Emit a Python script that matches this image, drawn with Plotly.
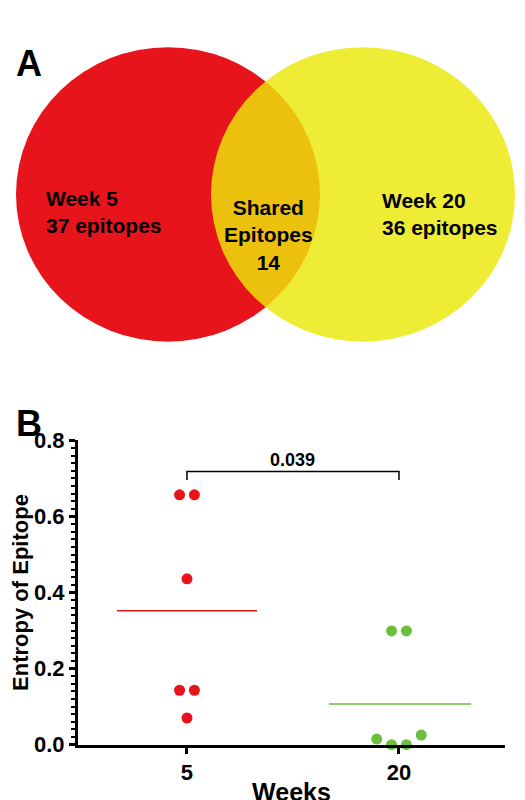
import plotly.graph_objects as go

categories = ["5", "20"]
week5_vals = [0.657, 0.657, 0.436, 0.143, 0.143, 0.070]
week5_x = [0.965, 1.035, 1.0, 0.965, 1.035, 1.0]
week20_vals = [0.299, 0.299, 0.0145, 0.0, 0.0, 0.025]
week20_x = [1.965, 2.035, 1.895, 1.965, 2.035, 2.105]
means = [0.352, 0.107]
pval = "0.039"

W, H = 525, 800
def px(x): return x / W
def py(y): return 1 - y / H

fig = go.Figure()
fig.add_trace(go.Scatter(x=week5_x, y=week5_vals, mode="markers",
    marker=dict(color="#e8141c", size=11), cliponaxis=False, showlegend=False))
fig.add_trace(go.Scatter(x=week20_x, y=week20_vals, mode="markers",
    marker=dict(color="#6cbf3c", size=11), cliponaxis=False, showlegend=False))
fig.add_trace(go.Scatter(x=[0.67, 1.33], y=[means[0]] * 2, mode="lines",
    line=dict(color="#e8141c", width=1.5), showlegend=False))
fig.add_trace(go.Scatter(x=[1.67, 2.34], y=[means[1]] * 2, mode="lines",
    line=dict(color="#6cbf3c", width=1.5), showlegend=False))
fig.add_trace(go.Scatter(x=[1, 1, 2, 2], y=[0.696, 0.718, 0.718, 0.696], mode="lines",
    line=dict(color="black", width=1.5), showlegend=False, cliponaxis=False))
fig.add_annotation(x=1.5, y=0.716, text="<b>" + pval + "</b>", showarrow=False,
    yanchor="bottom", font=dict(size=18, color="black"))

shapes = [
    dict(type="circle", xref="paper", yref="paper", x0=px(8), x1=px(312), y0=py(332), y1=py(28),
         fillcolor="#e8141c", line=dict(width=0), layer="below"),
    dict(type="circle", xref="paper", yref="paper", x0=px(203), x1=px(507), y0=py(332), y1=py(28),
         fillcolor="rgba(236,232,10,0.82)", line=dict(width=0), layer="below"),
]
fig.update_layout(shapes=shapes)

bf = dict(family="Liberation Sans, Arial", color="black")
fig.add_annotation(xref="paper", yref="paper", x=px(6), y=py(22), text="<b>A</b>", showarrow=False,
    xanchor="left", font=dict(size=36, **bf))
fig.add_annotation(xref="paper", yref="paper", x=px(6), y=py(416), text="<b>B</b>", showarrow=False,
    xanchor="left", font=dict(size=36, **bf))
fig.add_annotation(xref="paper", yref="paper", x=px(36), y=py(170), text="<b>Week 5<br>37 epitopes</b>",
    showarrow=False, xanchor="left", align="left", font=dict(size=21, **bf))
fig.add_annotation(xref="paper", yref="paper", x=px(260), y=py(180), text="<b>Shared<br>Epitopes<br>14</b>",
    showarrow=False, xanchor="center", align="center", font=dict(size=21, **bf))
fig.add_annotation(xref="paper", yref="paper", x=px(372), y=py(172), text="<b>Week 20<br>36 epitopes</b>",
    showarrow=False, xanchor="left", align="left", font=dict(size=21, **bf))

fig.update_layout(
    width=W, height=H, margin=dict(l=0, r=0, t=0, b=0),
    plot_bgcolor="white", paper_bgcolor="white",
    font=dict(family="Liberation Sans, Arial", color="black"),
    xaxis=dict(domain=[70 / W, 497 / W], range=[0.486, 2.5], tickvals=[1, 2],
               ticktext=["<b>%s</b>" % c for c in categories], tickfont=dict(size=22),
               showline=True, linecolor="black", linewidth=3, ticks="outside", ticklen=6,
               tickwidth=3, tickcolor="black", showgrid=False, zeroline=False,
               title=dict(text="<b>Weeks</b>", font=dict(size=25), standoff=0)),
    yaxis=dict(domain=[52 / H, 366 / H], range=[0, 0.8], tickvals=[0, 0.2, 0.4, 0.6, 0.8],
               ticktext=["<b>0.0</b>", "<b>0.2</b>", "<b>0.4</b>", "<b>0.6</b>", "<b>0.8</b>"],
               tickfont=dict(size=22), showline=True, linecolor="black", linewidth=3,
               ticks="outside", ticklen=6, tickwidth=3, tickcolor="black",
               minor=dict(dtick=0.02, ticks="outside", ticklen=4, tickwidth=1.5, tickcolor="black"),
               showgrid=False, zeroline=False,
               title=dict(text="<b>Entropy of Epitope</b>", font=dict(size=22), standoff=4)),
)
fig.write_html("out.html")
